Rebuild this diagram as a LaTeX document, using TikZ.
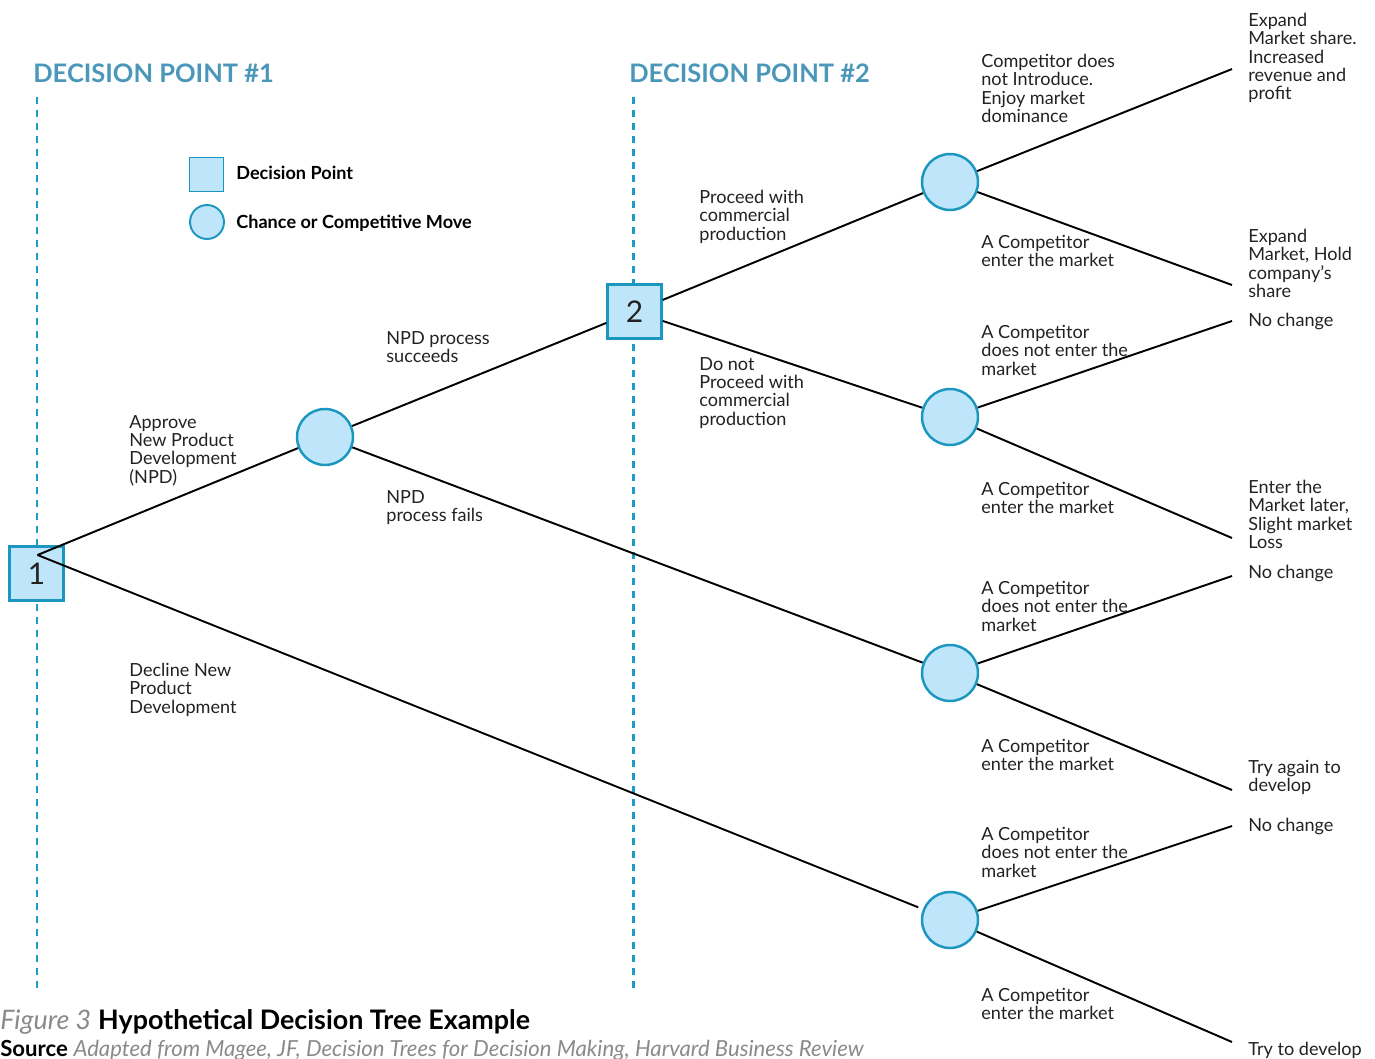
\documentclass[tikz,border=0pt]{standalone}
\usepackage{fontspec}
\setmainfont{Lato}
\definecolor{dpblue}{HTML}{4A97BA}
\definecolor{guideblue}{HTML}{1A9CC8}
\definecolor{nodeline}{HTML}{1B96BF}
\definecolor{nodefill}{HTML}{BEE5F9}
\definecolor{textgray}{HTML}{222222}
\definecolor{captiongray}{HTML}{8A8A8A}

\begin{document}
\begin{tikzpicture}[x=0.02cm, y=-0.02cm,
    every node/.style={font=\fontsize{10.3}{10.4}\selectfont, text=textgray},
    decisionbox/.style={draw=nodeline, fill=nodefill, line width=1.4pt, minimum size=1.08cm, inner sep=0pt},
    chancenode/.style={circle, draw=nodeline, fill=nodefill, line width=1.4pt, minimum size=1.12cm, inner sep=0pt},
    branch/.style={line width=1.1pt},
    guide/.style={guideblue, line width=1.7pt, dash pattern=on 4pt off 3.4pt},
    lbl/.style={anchor=north west, align=left, inner sep=0pt}]
  \useasboundingbox (0,0) rectangle (1375,1058);
  % decision point columns
  \draw[guide] (37,97) -- (37,988);
  \draw[guide] (633,97) -- (633,988);
  \node[anchor=west, inner sep=0pt, font=\fontsize{14.5}{16}\selectfont\bfseries, text=dpblue] (head1) at (33,73) {DECISION POINT \#1};
  \node[anchor=west, inner sep=0pt, font=\fontsize{14.5}{16}\selectfont\bfseries, text=dpblue] (head2) at (629,73) {DECISION POINT \#2};
  % legend
  \node[decisionbox, minimum size=0.68cm, line width=1.1pt] (keybox) at (206.5,174.5) {};
  \node[chancenode, minimum size=0.68cm, line width=1.1pt] (keycirc) at (207,222) {};
  \node[anchor=west, inner sep=0pt, font=\fontsize{10.3}{12}\selectfont\bfseries, text=black] (keyboxtxt) at (236,173) {Decision Point};
  \node[anchor=west, inner sep=0pt, font=\fontsize{10.3}{12}\selectfont\bfseries, text=black] (keycirctxt) at (236,223) {Chance or Competitive Move};
  % nodes
  \node[decisionbox, font=\fontsize{17}{17}\selectfont] (dp1) at (36.5,573.5) {1};
  \node[decisionbox, font=\fontsize{17}{17}\selectfont] (dp2) at (634.5,311.5) {2};
  \node[chancenode] (npd) at (325,437) {};
  \node[chancenode] (c1) at (950,182) {};
  \node[chancenode] (c2) at (950,417) {};
  \node[chancenode] (c3) at (950,673) {};
  \node[chancenode] (c4) at (950,920) {};
  \coordinate (dp1top) at (37.5,555);
  \foreach \i/\y in {1/69,2/285,3/321,4/538,5/576,6/790,7/826,8/1042}
    \coordinate (e\i) at (1232,\y);
  % branches
  \draw[branch] (dp1top) -- (npd);
  \draw[branch, shorten >=0.1cm] (dp1top) -- (c4);
  \draw[branch] (npd) -- (dp2);
  \draw[branch] (npd) -- (c3);
  \draw[branch] (dp2) -- (c1);
  \draw[branch] (dp2) -- (c2);
  \draw[branch] (c1) -- (e1);
  \draw[branch] (c1) -- (e2);
  \draw[branch] (c2) -- (e3);
  \draw[branch] (c2) -- (e4);
  \draw[branch] (c3) -- (e5);
  \draw[branch] (c3) -- (e6);
  \draw[branch] (c4) -- (e7);
  \draw[branch] (c4) -- (e8);
  % branch labels
  \node[lbl] (t1) at (129,415) {Approve\\New Product\\Development\\(NPD)};
  \node[lbl] (t2) at (129,663) {Decline New\\Product\\Development};
  \node[lbl] (t3) at (386,331) {NPD process\\succeeds};
  \node[lbl] (t4) at (386,490) {NPD\\process fails};
  \node[lbl] (t5) at (699,190) {Proceed with\\commercial\\production};
  \node[lbl] (t6) at (699,357) {Do not\\Proceed with\\commercial\\production};
  \node[lbl] (t7) at (981,54) {Competitor does\\not Introduce.\\Enjoy market\\dominance};
  \node[lbl] (t8) at (981,235) {A Competitor\\enter the market};
  \node[lbl] (t9) at (981,325) {A Competitor\\does not enter the\\market};
  \node[lbl] (t10) at (981,482) {A Competitor\\enter the market};
  \node[lbl] (t11) at (981,581) {A Competitor\\does not enter the\\market};
  \node[lbl] (t12) at (981,739) {A Competitor\\enter the market};
  \node[lbl] (t13) at (981,827) {A Competitor\\does not enter the\\market};
  \node[lbl] (t14) at (981,988) {A Competitor\\enter the market};
  % outcomes
  \node[lbl] (o1) at (1248,13) {Expand\\Market share.\\Increased\\revenue and\\profit};
  \node[lbl] (o2) at (1248,229) {Expand\\Market, Hold\\company’s\\share};
  \node[lbl] (o3) at (1248,313) {No change};
  \node[lbl] (o4) at (1248,480) {Enter the\\Market later,\\Slight market\\Loss};
  \node[lbl] (o5) at (1248,565) {No change};
  \node[lbl] (o6) at (1248,760) {Try again to\\develop};
  \node[lbl] (o7) at (1248,818) {No change};
  \node[lbl] (o8) at (1248,1042) {Try to develop};
  % caption
  \node[anchor=base west, inner sep=0pt, font=\fontsize{15.3}{16}\selectfont, text=black] (cap) at (0,1029)
    {{\color{captiongray}\itshape Figure 3} \textbf{Hypothetical Decision Tree Example}};
  \node[anchor=base west, inner sep=0pt, font=\fontsize{12.6}{13}\selectfont, text=black] (src) at (0,1056)
    {\textbf{Source} {\color{captiongray}\itshape Adapted from Magee, JF, Decision Trees for Decision Making, Harvard Business Review}};
\end{tikzpicture}
\end{document}
